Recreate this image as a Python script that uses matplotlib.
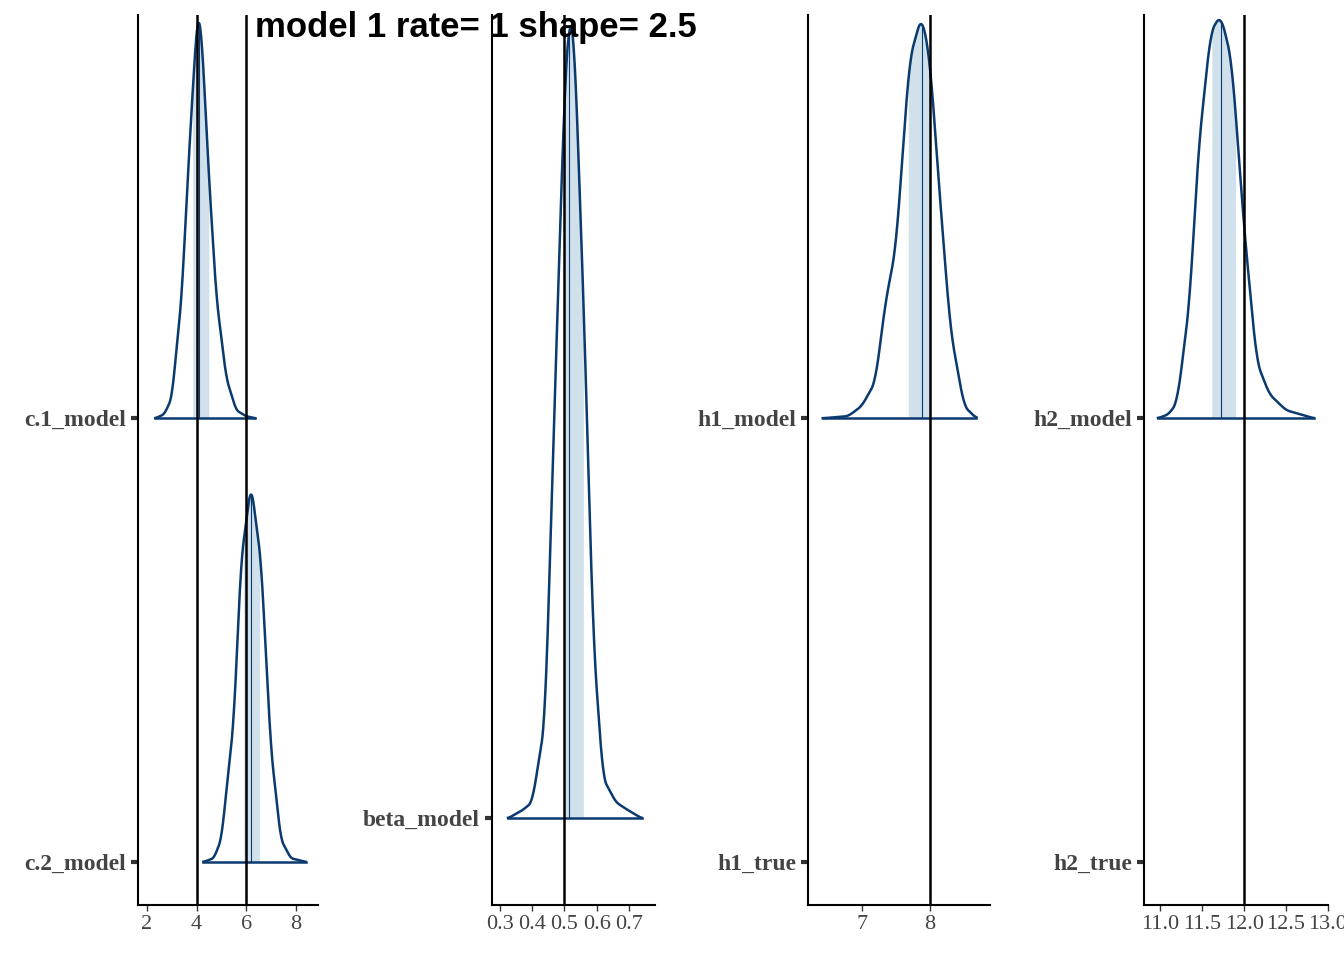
import numpy as np
import matplotlib
matplotlib.use("Agg")
import matplotlib.pyplot as plt

title = "model 1 rate= 1 shape= 2.5"
# density profiles: x values and relative heights
c1_x = [2.34, 2.7, 3.0, 3.4, 3.7, 4.0, 4.08, 4.2, 4.5, 4.8, 5.2, 5.6, 6.0, 6.36]
c1_h = [0.0, 0.01, 0.05, 0.3, 0.66, 0.97, 1.0, 0.96, 0.6, 0.3, 0.1, 0.02, 0.005, 0.0]
c1_int = [3.84, 4.5]; c1_med = 4.1
c2_x = [4.28, 4.7, 5.0, 5.5, 5.8, 6.2, 6.6, 7.0, 7.4, 7.8, 8.4]
c2_h = [0.0, 0.01, 0.06, 0.37, 0.8, 1.0, 0.8, 0.3, 0.06, 0.01, 0.0]
c2_int = [5.9, 6.55]; c2_med = 6.2
b_x = [0.325, 0.37, 0.40, 0.44, 0.47, 0.50, 0.515, 0.53, 0.56, 0.59, 0.62, 0.66, 0.69, 0.74]
b_h = [0.0, 0.01, 0.02, 0.12, 0.52, 0.9, 1.0, 0.98, 0.64, 0.22, 0.05, 0.02, 0.012, 0.0]
b_int = [0.497, 0.56]; b_med = 0.515
h1_x = [6.43, 6.8, 7.0, 7.2, 7.35, 7.5, 7.7, 7.88, 8.0, 8.15, 8.3, 8.5, 8.68]
h1_h = [0.0, 0.005, 0.03, 0.09, 0.29, 0.42, 0.89, 1.0, 0.89, 0.54, 0.22, 0.03, 0.0]
h1_int = [7.68, 8.0]; h1_med = 7.88
h2_x = [10.97, 11.1, 11.2, 11.35, 11.45, 11.6, 11.72, 11.85, 12.0, 12.15, 12.3, 12.5, 12.83]
h2_h = [0.0, 0.01, 0.04, 0.29, 0.66, 0.96, 1.0, 0.89, 0.47, 0.14, 0.06, 0.02, 0.0]
h2_int = [11.61, 11.9]; h2_med = 11.72

LINE = "#0b3a6e"; FILL = "#d1e1ec"

def ridge(ax, xs, hs, base, scale, iv, med):
    g = np.linspace(xs[0], xs[-1], 400)
    d = np.interp(g, xs, hs)
    k = np.ones(21) / 21
    d = np.convolve(np.pad(d, 10, mode="edge"), k, mode="valid")
    m = (g >= iv[0]) & (g <= iv[1])
    ax.fill_between(g[m], base, base + scale * d[m], color=FILL, lw=0, zorder=1)
    ax.plot([med, med], [base, base + scale * np.interp(med, g, d)], color=LINE, lw=0.8, zorder=2)
    ax.plot(g, base + scale * d, color=LINE, lw=1.8, zorder=3)
    ax.plot([xs[0], xs[-1]], [base, base], color=LINE, lw=1.8, zorder=3)

fig = plt.figure(figsize=(13.44, 9.6), dpi=100)
B, T = 0.0573, 0.984
def mk(l, r):
    ax = fig.add_axes([l, B, r - l, T - B])
    for s in ["top", "right"]:
        ax.spines[s].set_visible(False)
    for s in ["left", "bottom"]:
        ax.spines[s].set_linewidth(1.5)
    ax.tick_params(axis="y", length=5, width=3, color="#333333")
    ax.tick_params(axis="x", length=4, width=1, color="#333333")
    return ax

def style(ax, ylabels):
    for t in ax.get_xticklabels():
        t.set_fontfamily("Liberation Serif"); t.set_fontsize(16); t.set_color("#444444")
    ax.set_yticklabels(ylabels, fontfamily="Liberation Serif", fontsize=17, fontweight="bold", color="#444444")

a1 = mk(0.1027, 0.2366)
ridge(a1, c1_x, c1_h, 2, 0.908, c1_int, c1_med)
ridge(a1, c2_x, c2_h, 1, 0.851, c2_int, c2_med)
for v in [4, 6]:
    a1.axvline(v, color="black", lw=1.8, zorder=4)
a1.set_xlim(1.64, 8.9); a1.set_ylim(0.903, 2.908)
a1.set_xticks([2, 4, 6, 8]); a1.set_yticks([1, 2])
style(a1, ["c.2_model", "c.1_model"])

a2 = mk(0.366, 0.487)
ridge(a2, b_x, b_h, 1, 1.0, b_int, b_med)
a2.axvline(0.5, color="black", lw=1.8, zorder=4)
a2.set_xlim(0.275, 0.78); a2.set_ylim(0.892, 2.0)
a2.set_xticks([0.3, 0.4, 0.5, 0.6, 0.7]); a2.set_xticklabels(["0.3", "0.4", "0.5", "0.6", "0.7"])
a2.set_yticks([1]); style(a2, ["beta_model"])

a3 = mk(0.601, 0.7366)
ridge(a3, h1_x, h1_h, 2, 0.908, h1_int, h1_med)
a3.axvline(8, color="black", lw=1.8, zorder=4)
a3.set_xlim(6.21, 8.88); a3.set_ylim(0.903, 2.908)
a3.set_xticks([7, 8]); a3.set_yticks([1, 2])
style(a3, ["h1_true", "h1_model"])

a4 = mk(0.851, 0.988)
ridge(a4, h2_x, h2_h, 2, 0.908, h2_int, h2_med)
a4.axvline(12, color="black", lw=1.8, zorder=4)
a4.set_xlim(10.8, 13.0); a4.set_ylim(0.903, 2.908)
a4.set_xticks([11.0, 11.5, 12.0, 12.5, 13.0]); a4.set_yticks([1, 2])
a4.set_xticklabels(["11.0", "11.5", "12.0", "12.5", "13.0"])
style(a4, ["h2_true", "h2_model"])

fig.text(0.354, 0.971, title, ha="center", va="center", fontsize=25,
         fontweight="bold", family="Liberation Sans", zorder=10)
fig.savefig("out.png", dpi=100)
